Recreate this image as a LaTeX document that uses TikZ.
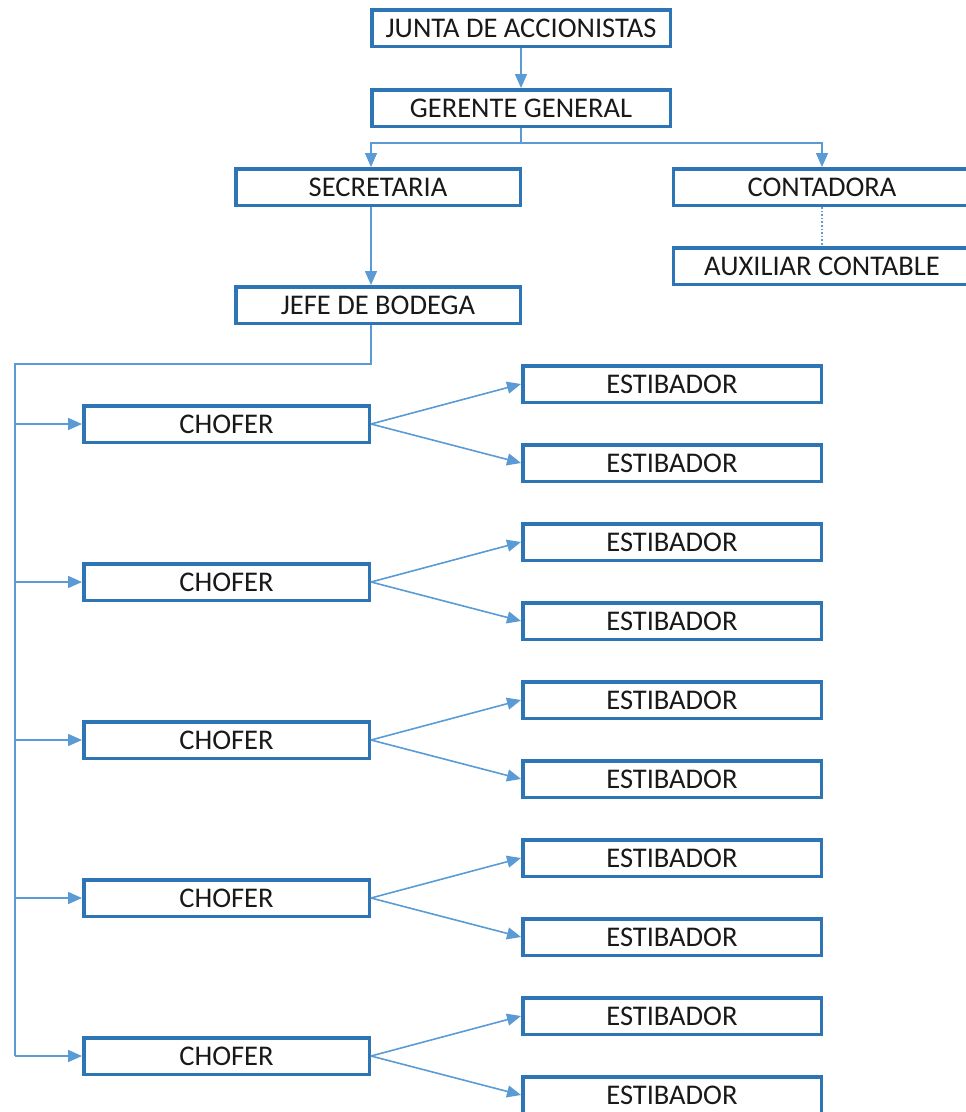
\documentclass[tikz,border=0pt]{standalone}
\usepackage{fontspec}
\setmainfont{Carlito}
\usepackage{tikz}
\usetikzlibrary{arrows.meta}
\definecolor{borde}{HTML}{2E75B6}
\definecolor{linea}{HTML}{5B9BD5}
\tikzstyle{caja} = [draw=borde, line width=3.5pt, minimum height=36.5pt, inner sep=0pt, font=\fontsize{28.5}{33}\selectfont, text=black!90]
\tikzstyle{flecha} = [draw=linea, line width=1.6pt, -{Triangle[length=14pt,width=12pt]}]
\tikzstyle{linea} = [draw=linea, line width=1.6pt]

\begin{document}
\begin{tikzpicture}[x=1pt, y=-1pt]
		\clip (0,0) rectangle (966,1112);

		\node[caja, minimum width=298.5pt] (junta) at (521,28) {JUNTA DE ACCIONISTAS};
		\node[caja, minimum width=298.5pt] (gerente) at (521,108) {GERENTE GENERAL};
		\node[caja, minimum width=284.5pt] (secretaria) at (378,187) {SECRETARIA};
		\node[caja, minimum width=297pt] (contadora) at (822,187) {CONTADORA};
		\node[caja, minimum width=297pt] (auxiliar) at (822,266) {AUXILIAR CONTABLE};
		\node[caja, minimum width=284.5pt] (jefe) at (378,305) {JEFE DE BODEGA};

		\coordinate (eje) at (371,0);
		\coordinate (rama) at (521,143);
		\coordinate (tronco) at (15,364);

		\draw[flecha] (junta) -- (gerente);
		\draw[linea] (gerente.south) -- (rama);
		\draw[flecha] (rama) -| (secretaria.north -| eje);
		\draw[flecha] (rama) -| (contadora.north);
		\draw[linea, dotted, line width=1.2pt] (contadora.south) -- (auxiliar.north);
		\draw[flecha] (secretaria.south -| eje) -- (jefe.north -| eje);

		\foreach \i in {1,...,5}{
			\node[caja, minimum width=285.5pt] (chofer\i) at (226.5,{424+158*(\i-1)}) {CHOFER};
			\node[caja, minimum width=298.5pt] (estibadorA\i) at (672,{384+158*(\i-1)}) {ESTIBADOR};
			\node[caja, minimum width=298.5pt] (estibadorB\i) at (672,{463+158*(\i-1)}) {ESTIBADOR};
			\draw[flecha] (tronco |- chofer\i.west) -- (chofer\i.west);
			\draw[flecha] (chofer\i.east) -- (estibadorA\i.west);
			\draw[flecha] (chofer\i.east) -- (estibadorB\i.west);
		}

		\draw[linea] (jefe.south -| eje) |- (tronco) -- (tronco |- chofer5.west);
	\end{tikzpicture}
\end{document}
